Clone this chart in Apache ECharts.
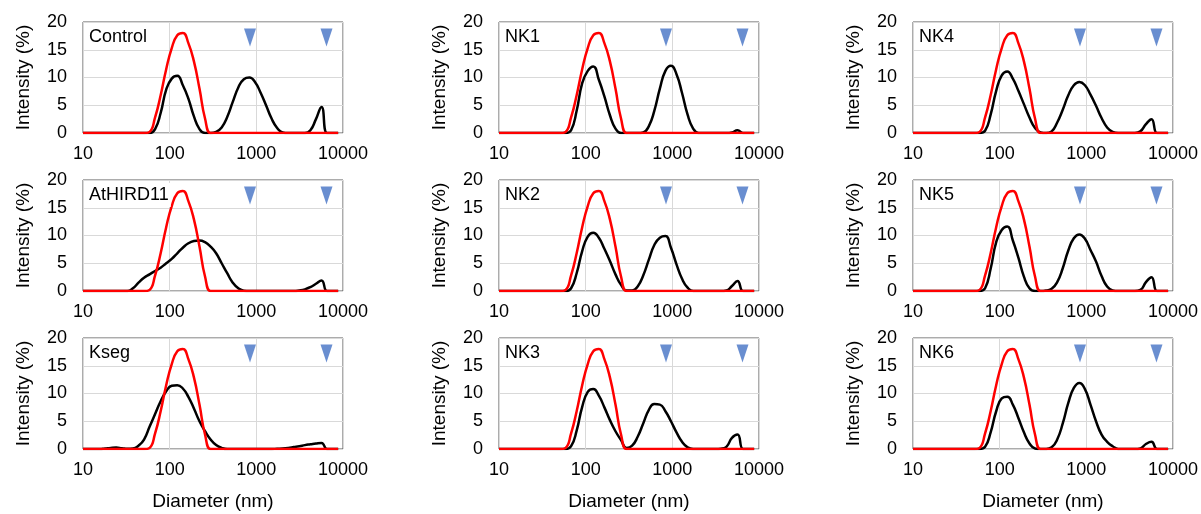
<!DOCTYPE html>
<html lang="en">
<head>
<meta charset="UTF-8">
<title>Intensity distribution</title>
<style>html,body{margin:0;padding:0;background:#fff;}</style>
</head>
<body>
<div id="main" style="width:1201px;height:514px;"></div>
<script src="https://cdn.jsdelivr.net/npm/echarts@6/dist/echarts.min.js"></script>
<script>
// size bins (nm)
var diameters = [10.0, 11.6, 13.4, 15.6, 18.0, 20.9, 24.2, 28.1, 32.5, 37.7, 43.7, 50.6, 58.6, 67.9, 78.7, 91.2,
    105.7, 122.4, 141.9, 164.4, 190.5, 220.8, 255.9, 296.5, 343.6, 398.1, 461.3, 534.6, 619.4, 717.8, 831.8, 963.9,
    1117, 1294, 1500, 1738, 2014, 2333, 2704, 3133, 3631, 4207, 4875, 5649, 6546, 7586, 8790];

// red curve, same in every panel
var reference = [0,0,0,0,0,0,0,0,0,0,0,0, 0.2,2.8,6.8,11.5,15.3,17.6,18.0,16.2,12.9,8.0,2.6, 0,
    0,0,0,0,0,0,0,0,0,0,0,0,0,0,0,0,0,0,0,0,0,0,0];

var control  = [0,0,0,0,0,0,0,0,0,0,0,0, 0,0.7,3.6,7.8,9.8,10.3,8.6,6.2,3.0,0.7,0,0,
    0.2,1.0,2.9,5.6,8.2,9.7,10.0,9.2,7.3,5.0,2.6,0.9,0.1,0,0,0,0,0.5,2.5,4.7,0,0,0];
var athird11 = [0,0,0,0,0,0,0,0,0,0.5,1.5,2.4,3.0,3.6,4.2,5.0,5.8,6.8,7.8,8.6,9.0,9.1,8.8,8.0,
    6.8,5.0,3.2,1.5,0.5,0.05,0,0,0,0,0,0,0,0,0,0.1,0.3,0.7,1.3,1.9,0,0,0];
var kseg     = [0,0,0,0,0.1,0.2,0.25,0.15,0.05,0.1,0.6,1.7,4.0,6.3,8.6,10.4,11.4,11.5,10.9,9.4,7.3,5.0,3.2,1.7,
    0.7,0.2,0,0,0,0,0,0,0,0,0,0.05,0.1,0.2,0.35,0.5,0.7,0.85,1.0,1.1,0,0,0];
var nk1      = [0,0,0,0,0,0,0,0,0,0,0,0,0,0.5,4.0,9.0,11.2,12.0,9.6,6.6,3.2,0.8,0,0,
    0,0,0.1,1.2,4.0,8.0,11.2,12.1,10.6,7.2,3.3,0.8,0,0,0,0,0,0,0.1,0.5,0,0,0];
var nk2      = [0,0,0,0,0,0,0,0,0,0,0,0,0,0.5,3.2,7.2,9.8,10.5,9.6,7.6,5.4,3.0,1.1,0.1,
    0.1,0.8,2.8,5.6,8.3,9.6,9.9,7.8,4.8,2.2,0.6,0,0,0,0,0,0,0.1,0.9,1.8,0,0,0];
var nk3      = [0,0,0,0,0,0,0,0,0,0,0,0,0,0.5,3.3,7.6,10.3,10.8,9.6,7.5,5.2,3.2,1.6,0.2,
    0.6,2.2,4.6,7.0,8.1,8.0,6.8,5.0,3.0,1.3,0.3,0,0,0,0,0,0.05,0.4,2.0,2.6,0,0,0];
var nk4      = [0,0,0,0,0,0,0,0,0,0,0,0,0,0.4,3.3,7.6,10.4,11.1,9.8,7.6,5.2,2.8,0.9,0.1,
    0,0.3,1.9,4.2,6.8,8.6,9.2,8.6,6.9,4.9,2.7,1.0,0.2,0,0,0,0,0.3,1.6,2.5,0,0,0];
var nk5      = [0,0,0,0,0,0,0,0,0,0,0,0,0,0.5,4.0,8.8,11.0,11.6,9.1,6.0,2.6,0.5,0,0,
    0.1,0.4,1.6,4.1,7.3,9.5,10.2,9.4,7.4,5.3,2.7,0.8,0.1,0,0,0,0,0.2,1.6,2.5,0,0,0];
var nk6      = [0,0,0,0,0,0,0,0,0,0,0,0,0,0.4,3.0,6.8,9.1,9.4,8.0,5.6,3.0,1.0,0.1,0,
    0,0.3,1.7,4.6,8.3,11.0,11.9,10.8,8.0,5.0,2.6,1.3,0.5,0,0,0,0,0.1,0.9,1.3,0,0,0];

// panels, column by column
var panelNames = ['Control', 'AtHIRD11', 'Kseg', 'NK1', 'NK2', 'NK3', 'NK4', 'NK5', 'NK6'];
var panelData = [control, athird11, kseg, nk1, nk2, nk3, nk4, nk5, nk6];

// blue arrow heads
var markerX = [845, 6450];
var markerY = 17.2;

var xMin = 10, xMax = 10000;
var yMin = 0, yMax = 20, yStep = 5;

var colLeft = [83, 499, 913];
var rowTop = [22, 180, 338];
var plotW = 260, plotH = 111;
var font = "'Liberation Sans', Arial, sans-serif";

function pairs(vals) {
    return diameters.map(function (d, k) { return [d, vals[k]]; });
}

var grids = [], xAxes = [], yAxes = [], series = [], titles = [];
panelNames.forEach(function (name, i) {
    var col = Math.floor(i / 3), row = i % 3;
    grids.push({
        left: colLeft[col], top: rowTop[row], width: plotW, height: plotH,
        show: true, borderColor: '#595959', borderWidth: 1, backgroundColor: '#fff'
    });
    xAxes.push({
        gridIndex: i, type: 'log', logBase: 10, min: xMin, max: xMax,
        name: row === 2 ? 'Diameter (nm)' : '', nameLocation: 'middle', nameGap: 43,
        nameTextStyle: { fontSize: 19, color: '#000', fontFamily: font },
        axisLine: { show: false }, axisTick: { show: false },
        axisLabel: { fontSize: 18, color: '#000', fontFamily: font, margin: 12, formatter: function (v) { return String(v); } },
        splitLine: { show: true, lineStyle: { color: '#d9d9d9', width: 1 } }
    });
    yAxes.push({
        gridIndex: i, type: 'value', min: yMin, max: yMax, interval: yStep,
        name: 'Intensity (%)', nameLocation: 'middle', nameGap: 50,
        nameTextStyle: { fontSize: 19, color: '#000', fontFamily: font },
        axisLine: { show: false }, axisTick: { show: false },
        axisLabel: { fontSize: 18, color: '#000', fontFamily: font, margin: 16 },
        splitLine: { show: true, lineStyle: { color: '#d9d9d9', width: 1 } }
    });
    series.push({
        name: name, type: 'line', xAxisIndex: i, yAxisIndex: i,
        data: pairs(panelData[i]), smooth: 0.5, symbol: 'none',
        lineStyle: { color: '#000', width: 2.5 }, z: 3
    });
    series.push({
        name: 'reference', type: 'line', xAxisIndex: i, yAxisIndex: i,
        data: pairs(reference), smooth: 0.5, symbol: 'none',
        lineStyle: { color: '#ff0000', width: 2.5 }, z: 4
    });
    series.push({
        type: 'scatter', xAxisIndex: i, yAxisIndex: i,
        data: markerX.map(function (x) { return [x, markerY]; }),
        symbol: 'triangle', symbolRotate: 180, symbolSize: [12, 18],
        itemStyle: { color: '#4472c4' }, z: 5
    });
    titles.push({
        text: name, left: colLeft[col] + 4, top: rowTop[row] + 3,
        backgroundColor: '#fff', padding: [3, 2],
        textStyle: { fontSize: 18, fontWeight: 'normal', color: '#000', fontFamily: font }
    });
});

var myChart = echarts.init(document.getElementById('main'));
myChart.setOption({
    animation: false,
    backgroundColor: '#fff',
    title: titles,
    grid: grids,
    xAxis: xAxes,
    yAxis: yAxes,
    series: series
});
</script>
</body>
</html>
